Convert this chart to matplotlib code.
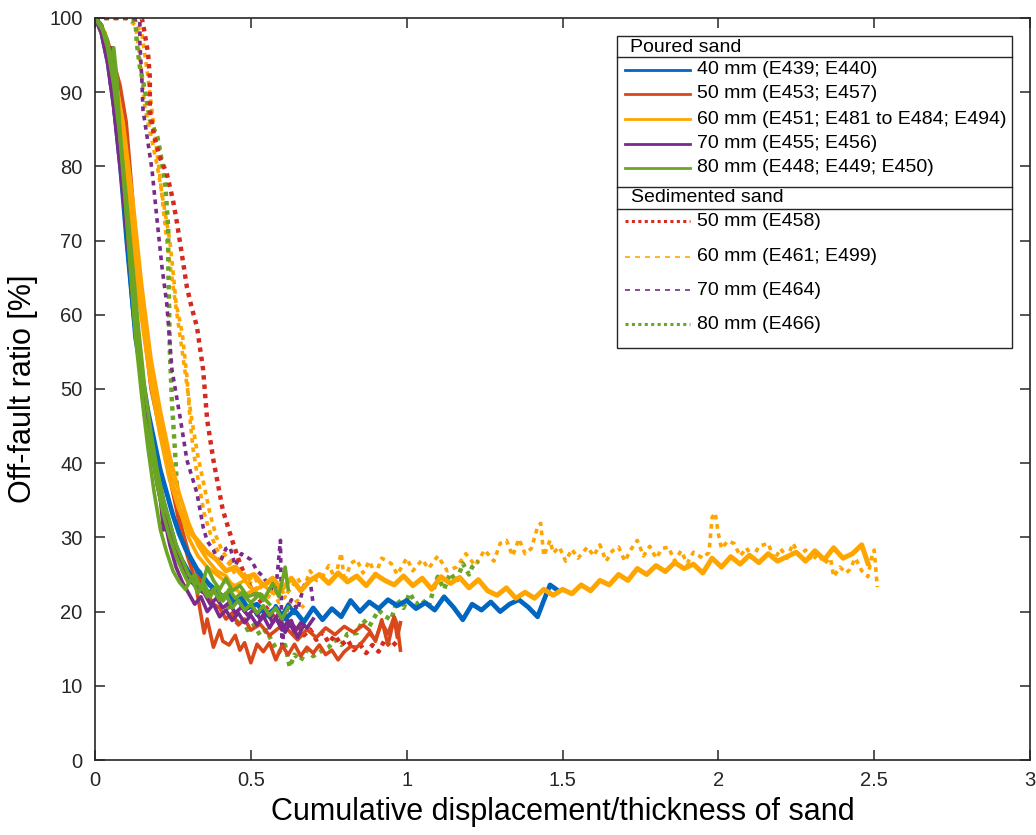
import matplotlib
matplotlib.use("Agg")
import matplotlib.pyplot as plt
from matplotlib.lines import Line2D
from matplotlib.patches import Rectangle

plt.rcParams['font.family'] = ['Liberation Sans', 'DejaVu Sans']

# ---------------- data (x = cumulative displacement / thickness, y = off-fault ratio %) -------------
poured_40_a = [(0,100),(0.02,99),(0.04,95),(0.06,90),(0.08,82),(0.10,72),(0.12,62),(0.13,57),(0.15,52),(0.17,47),
               (0.19,43),(0.21,39),(0.23,36),(0.25,33),(0.27,30.5),(0.29,28.5),(0.31,27),(0.33,25.5),(0.35,24.5),
               (0.37,23.5),(0.39,22.8),(0.41,22),(0.43,22.5),(0.45,21.2),(0.47,21.8),(0.49,20.5),(0.52,21),(0.55,19.5),
               (0.58,20.5),(0.61,19),(0.64,20.2),(0.67,18.6),(0.70,20.5),(0.73,18.9),(0.76,20.4),(0.79,19.3),(0.82,21.5),
               (0.85,20),(0.88,21.3),(0.91,20.4),(0.94,21.6),(0.97,20.8),(1.00,21.5),(1.03,20.4),(1.06,21.2),(1.09,20.2),
               (1.12,22),(1.15,20.6),(1.18,18.9),(1.21,21),(1.24,20.2),(1.27,21.3),(1.30,20),(1.33,21),(1.36,21.6),
               (1.39,20.6),(1.42,19.3),(1.44,21.5),(1.46,23.6),(1.48,23)]
poured_40_b = [(0,100),(0.02,98),(0.04,94),(0.06,88),(0.08,80),(0.10,70),(0.12,61),(0.14,54),(0.16,48),(0.18,43),
               (0.20,39),(0.22,35),(0.24,32),(0.26,29),(0.28,27),(0.30,25.5),(0.32,24),(0.34,23.5),(0.36,22.5),(0.38,23),
               (0.40,21.5),(0.42,22.2),(0.44,20.8),(0.46,21.5),(0.48,20),(0.50,21),(0.52,19.5),(0.54,20.6),(0.56,19.2),
               (0.58,20.8),(0.60,19.5),(0.62,21),(0.64,19.8)]
poured_50_a = [(0,100),(0.02,99),(0.04,97),(0.06,94),(0.08,91),(0.10,86),(0.12,76),(0.14,64),(0.16,57),(0.18,50),
               (0.20,46),(0.22,42),(0.24,38),(0.26,34),(0.28,30),(0.30,27),(0.32,24.5),(0.33,22),(0.35,17.1),(0.36,19),
               (0.38,15.2),(0.40,17.5),(0.41,16),(0.43,15.5),(0.45,16.8),(0.465,14.8),(0.48,15.8),(0.50,13.1),(0.52,15.6),
               (0.54,14.6),(0.56,15.8),(0.58,13.5),(0.60,15.4),(0.62,14.2),(0.64,15.6),(0.66,14),(0.68,15.2),(0.70,14.4),
               (0.72,15.5),(0.74,14.2),(0.76,14.8),(0.78,13.5),(0.80,14.6),(0.82,15.3),(0.84,15.2),(0.86,16),(0.88,17.1),
               (0.90,16.2),(0.92,18.5),(0.94,17),(0.96,19.3),(0.97,18.2),(0.98,14.8)]
poured_50_b = [(0,100),(0.02,98.5),(0.04,96),(0.06,92),(0.08,86),(0.10,79),(0.12,71),(0.14,63),(0.16,57),(0.18,51),
               (0.20,47),(0.22,43),(0.24,39),(0.26,35),(0.28,31),(0.30,28),(0.32,26),(0.34,24),(0.36,22.5),(0.38,21),
               (0.40,20.5),(0.42,19),(0.44,19.8),(0.46,18.2),(0.48,19),(0.50,17.5),(0.53,18.3),(0.56,16.8),(0.59,17.8),
               (0.62,17.5),(0.65,16.2),(0.68,17.6),(0.71,16.5),(0.74,17.8),(0.77,16.9),(0.80,18),(0.83,17.2),(0.86,18.2),
               (0.88,17.5),(0.90,16),(0.92,18.9),(0.94,15.5),(0.96,19.2),(0.97,16.5),(0.98,18.5)]
poured_60_a = [(0,100),(0.03,98),(0.06,92),(0.09,82),(0.12,70),(0.15,60),(0.18,51),(0.21,44),(0.24,38),(0.27,34),
               (0.30,31),(0.33,29.5),(0.36,28),(0.39,27),(0.42,25.5),(0.45,26),(0.48,24.5),(0.51,25),(0.54,23.5),
               (0.57,24.5),(0.60,23),(0.63,24.5),(0.66,22.8),(0.69,24.2),(0.72,25),(0.75,23.8),(0.78,25.2),(0.81,24),
               (0.84,24.8),(0.87,23.5),(0.90,25),(0.93,24.2),(0.96,23.6),(0.99,24.8),(1.02,23.5),(1.05,24.5),(1.08,23),
               (1.11,24.7),(1.14,23.8),(1.17,24.6),(1.20,23.2),(1.23,24.3),(1.26,22.8),(1.29,22.2),(1.32,23.2),
               (1.35,21.8),(1.38,22.6),(1.41,21.8),(1.44,23),(1.47,22.2),(1.50,23),(1.53,22.4),(1.56,23.6),(1.59,22.8),
               (1.62,24.2),(1.65,23.6),(1.68,25),(1.71,24.2),(1.74,25.8),(1.77,25),(1.80,26.2),(1.83,25.4),(1.86,26.6),
               (1.89,25.8),(1.92,26.4),(1.95,25.2),(1.98,27.2),(2.01,26),(2.04,27.4),(2.07,26.4),(2.10,27.6),(2.13,26.6),
               (2.16,27.8),(2.19,26.8),(2.22,27.4),(2.25,28),(2.28,26.8),(2.31,28.2),(2.34,27),(2.37,28.6),(2.40,27.2),
               (2.43,27.8),(2.46,29),(2.48,26.5)]
poured_60_b = [(0,100),(0.03,97),(0.06,91),(0.09,83),(0.12,72),(0.15,61),(0.18,52),(0.21,45),(0.24,39),(0.27,34),
               (0.30,30),(0.33,27.5),(0.36,26),(0.39,25),(0.42,24),(0.45,23.5),(0.48,24.2),(0.51,22.8),(0.54,23.6),
               (0.57,22.5),(0.60,23.2)]
poured_60_c = [(0,100),(0.03,98),(0.06,93),(0.09,86),(0.12,76),(0.15,64),(0.18,54),(0.21,47),(0.24,41),(0.27,36),
               (0.30,32),(0.33,29),(0.36,27),(0.39,25.5),(0.42,24.8),(0.45,23),(0.48,22.2),(0.51,23)]
poured_70_a = [(0,100),(0.02,99),(0.04,96),(0.05,91),(0.055,96),(0.06,88),(0.07,84),(0.08,80),(0.10,72),(0.12,63),
               (0.14,55),(0.16,48),(0.18,42),(0.20,37),(0.22,33),(0.24,29),(0.26,26),(0.28,24),(0.30,22.5),(0.32,21),
               (0.34,22),(0.36,20),(0.38,21),(0.40,19.3),(0.42,20.2),(0.44,18.8),(0.46,19.8),(0.48,18.5),(0.50,19.5),
               (0.52,18.2),(0.54,19.4),(0.56,17.8),(0.58,19.2),(0.60,17.5),(0.62,18.8),(0.64,17.2),(0.66,18.5),
               (0.68,17.8),(0.70,19)]
poured_70_b = [(0,100),(0.02,98),(0.04,94),(0.06,88),(0.08,81),(0.10,74),(0.12,66),(0.13,58),(0.15,52),(0.17,46),
               (0.19,40),(0.21,35),(0.22,31),(0.23,33),(0.25,29),(0.27,27),(0.29,25.5),(0.31,24),(0.33,23),(0.35,22.5),
               (0.37,21),(0.39,21.8),(0.41,20.5),(0.43,21.2),(0.45,19.8),(0.47,20.6),(0.49,19.5),(0.51,20.3),(0.53,19),
               (0.55,20.2),(0.57,18.5),(0.59,19.8),(0.61,17.2),(0.63,18.8),(0.65,16.5),(0.67,18.2)]
poured_80_a = [(0,100),(0.02,99),(0.04,97),(0.05,94),(0.06,96),(0.07,92),(0.08,84),(0.10,74),(0.12,64),(0.14,55),
               (0.15,50),(0.16,46),(0.18,42),(0.20,37),(0.22,33),(0.24,30),(0.26,27.5),(0.28,25.5),(0.30,23.8),(0.32,25),
               (0.34,23),(0.36,26),(0.38,24.2),(0.40,23),(0.42,24.5),(0.44,22.8),(0.465,23.5),(0.49,22),(0.52,22.5),
               (0.54,21.5),(0.57,23.8),(0.59,22),(0.61,26),(0.62,23)]
poured_80_b = [(0,100),(0.03,98),(0.05,95),(0.07,90),(0.09,80),(0.11,68),(0.13,57),(0.15,49),(0.17,42),(0.19,36),
               (0.21,31),(0.23,28),(0.25,25.5),(0.27,24),(0.29,23),(0.31,24.5),(0.33,22.5),(0.35,23.8),(0.37,22),
               (0.39,23.5),(0.41,21.5),(0.43,23),(0.45,21.8),(0.47,22.5),(0.50,21.2),(0.53,22.4),(0.56,21)]
poured_80_c = [(0,100),(0.02,99),(0.04,96),(0.06,91),(0.08,84),(0.10,76),(0.12,67),(0.14,58),(0.16,50),(0.18,44),
               (0.20,39),(0.22,35),(0.24,32),(0.26,29),(0.28,27),(0.30,25),(0.32,24),(0.34,23.5),(0.36,22),(0.38,23),
               (0.40,21.5),(0.42,22.5),(0.44,20.5),(0.46,21.5),(0.48,20.2),(0.50,21),(0.52,19.8),(0.54,20.8),
               (0.56,19.5),(0.58,20.5),(0.60,19),(0.62,20.6)]

sed_50 = [(0,100),(0.05,100),(0.10,100),(0.15,100),(0.155,99),(0.17,95.3),(0.176,92),(0.176,87.6),(0.19,84),(0.21,81),
          (0.23,79.1),(0.25,75.5),(0.263,72.4),(0.28,67.8),(0.295,63.7),(0.31,61),(0.327,58.4),(0.347,52.6),(0.36,45.8),
          (0.38,40.4),(0.41,33.7),(0.44,29.6),(0.465,26.5),(0.49,24),(0.51,22.5),(0.53,21.5),(0.55,20.5),(0.57,19.5),
          (0.59,18.6),(0.61,19.4),(0.63,17.5),(0.65,18.3),(0.67,16.8),(0.69,17.6),(0.71,16.2),(0.73,17.2),(0.75,15.8),
          (0.77,16.8),(0.79,15.5),(0.81,16.2),(0.83,14.8),(0.85,15.6),(0.87,14.4),(0.89,15.5),(0.91,14.6),(0.93,16.2),
          (0.95,15.2),(0.97,16)]
sed_60_a = [(0,100),(0.05,100),(0.10,100),(0.13,99),(0.14,96),(0.15,92),(0.16,88),(0.18,84),(0.20,80),(0.22,75),
            (0.24,70),(0.25,66),(0.26,61.6),(0.28,57.5),(0.295,51.6),(0.305,45.8),(0.315,41.8),(0.327,38.7),(0.35,33.3),
            (0.37,30.5),(0.39,28.5),(0.41,27),(0.43,26.5),(0.45,25),(0.47,25.8),(0.49,24.2),(0.51,24.8),(0.53,23.2),
            (0.55,24),(0.57,22.5),(0.59,23.5),(0.61,22.2),(0.625,22.9),(0.65,24.5),(0.67,23.2),(0.69,25.5),(0.71,24.2),
            (0.73,24.7),(0.75,26.2),(0.77,24.5),(0.79,27.9),(0.80,24),(0.82,26.5),(0.84,27),(0.86,25.2),(0.88,26.8),
            (0.90,25),(0.92,27.2),(0.95,26.5),(0.97,25),(1.00,27.2),(1.02,25.5),(1.05,27),(1.07,25.8),(1.10,27.5),
            (1.13,25.5),(1.16,26),(1.19,27.8),(1.22,26.2),(1.25,28.3),(1.28,26.8),(1.30,29.2),(1.32,29.6),(1.34,27.5),
            (1.36,29.8),(1.38,27.8),(1.40,28.5),(1.42,31.4),(1.43,31.9),(1.44,27.5),(1.46,29.6),(1.47,27.9),(1.49,28.7),
            (1.51,26.8),(1.53,28.4),(1.55,27.2),(1.58,28.7),(1.60,27.5),(1.62,29),(1.64,26.8),(1.66,28.2),(1.68,28.7),
            (1.70,26.8),(1.72,28.4),(1.74,29.6),(1.76,27.5),(1.78,28.8),(1.80,27.2),(1.82,28.5),(1.84,28.7),(1.86,26.8),
            (1.88,28.2),(1.90,26.5),(1.92,28),(1.95,27.2),(1.97,28),(1.98,32.7),(1.99,33.3),(2.00,30.5),(2.01,28.5),
            (2.03,29.5),(2.05,29.2),(2.07,27.5),(2.09,28.6),(2.11,27.2),(2.13,28.8),(2.16,29.2),(2.18,27),(2.20,28.5),
            (2.22,27.2),(2.24,29.2),(2.26,27.5),(2.28,28.3),(2.30,26.8),(2.32,27.8),(2.34,26.5),(2.36,27.2),(2.37,24.7),
            (2.39,26),(2.41,25.2),(2.42,25.6),(2.44,27.2),(2.46,25.5),(2.48,24.7),(2.49,27),(2.50,28.3),(2.51,23.3)]
sed_60_b = [(0,100),(0.06,100),(0.12,100),(0.15,98),(0.17,92),(0.19,85),(0.21,78),(0.23,70),(0.25,64),(0.27,58),
            (0.29,52),(0.31,46),(0.33,41),(0.35,37),(0.37,33),(0.39,30),(0.41,28),(0.43,27),(0.45,26.2),(0.47,25),
            (0.49,24.2),(0.51,23.5),(0.53,22.6),(0.55,21.6),(0.57,22.8),(0.59,21.2),(0.61,22),(0.63,20.8),(0.65,21.5),
            (0.67,20.5)]
sed_70 = [(0,100),(0.07,100),(0.12,100),(0.144,99.7),(0.144,96.6),(0.15,92),(0.154,87.6),(0.17,83.2),(0.183,79.5),
          (0.2,72.4),(0.215,66.4),(0.23,61.6),(0.247,52.6),(0.273,46.2),(0.295,40.4),(0.327,36),(0.347,31.4),(0.36,29.5),
          (0.38,28.3),(0.40,26.5),(0.42,28.5),(0.433,28.7),(0.45,26.2),(0.47,27.8),(0.50,27),(0.52,25.5),(0.54,24.7),
          (0.56,23.2),(0.58,22.9),(0.595,29.6),(0.60,14.8),(0.61,19.5),(0.63,21.6),(0.65,20.2),(0.67,23.5),(0.69,24.3),
          (0.70,21)]
sed_80 = [(0,100),(0.05,100),(0.10,100),(0.13,99.5),(0.134,96.6),(0.144,93.4),(0.16,90.3),(0.176,86.3),(0.2,84),
          (0.21,81.8),(0.225,77.8),(0.235,71.8),(0.235,66.4),(0.237,62.9),(0.24,55.3),(0.247,48.1),(0.257,41.4),
          (0.263,36.8),(0.27,33),(0.28,30),(0.30,27.5),(0.32,26),(0.34,25.2),(0.36,24),(0.38,23.2),(0.40,22),(0.42,21.2),
          (0.44,19.5),(0.455,18.5),(0.47,19.2),(0.49,17.5),(0.51,18.2),(0.53,16.8),(0.55,17.5),(0.57,15.8),(0.59,14.5),
          (0.61,15.5),(0.625,12.5),(0.64,14.2),(0.66,13.4),(0.68,14.8),(0.70,14),(0.73,14.8),(0.75,15.2),(0.77,16.2),
          (0.79,15.5),(0.81,17),(0.84,17.1),(0.86,18.9),(0.88,18),(0.91,20.2),(0.93,19.4),(0.95,18.9),(0.97,21.6),
          (0.99,20.5),(1.01,22.5),(1.03,21),(1.05,21.6),(1.07,20.6),(1.09,23.5),(1.10,24.7),(1.12,23),(1.14,25.2),
          (1.16,24),(1.18,26.5),(1.20,25),(1.21,26),(1.23,26.8)]

poured_header = 'Poured sand'
sed_header = 'Sedimented sand'
poured_labels = ['40 mm (E439; E440)', '50 mm (E453; E457)', '60 mm (E451; E481 to E484; E494)',
                 '70 mm (E455; E456)', '80 mm (E448; E449; E450)']
sed_labels = ['50 mm (E458)', '60 mm (E461; E499)', '70 mm (E464)', '80 mm (E466)']
x_ticks = [0, 0.5, 1, 1.5, 2, 2.5, 3]
x_tick_labels = ['0', '0.5', '1', '1.5', '2', '2.5', '3']
y_ticks = [0, 10, 20, 30, 40, 50, 60, 70, 80, 90, 100]

# ---------------- styles ----------------
BLUE = '#0066BF'
RED = '#D9481A'
RED_DOT = '#D62A1E'
ORANGE = '#FFA500'
PURPLE = '#7A2A8C'
GREEN = '#6BA524'
AX = '#262626'

W, H = 1036, 835
fig = plt.figure(figsize=(W / 100, H / 100), dpi=100)
ax = fig.add_axes([95 / W, 1 - 760 / H, (1030 - 95) / W, (760 - 18) / H])

def draw(ax, pts, **kw):
    xs = [p[0] for p in pts]
    ys = [p[1] for p in pts]
    ax.plot(xs, ys, **kw)

solid_kw = dict(lw=2.6, solid_joinstyle='round')
dot_kw = dict(lw=3.2, dashes=(1, 1.1))
dash_kw = dict(lw=2.6, dashes=(1.3, 1.3))

draw(ax, sed_60_a, color=ORANGE, **dash_kw)
draw(ax, sed_60_b, color=ORANGE, **dash_kw)
draw(ax, sed_80, color=GREEN, **dot_kw)
draw(ax, sed_70, color=PURPLE, **dash_kw)
draw(ax, sed_50, color=RED_DOT, **dot_kw)

draw(ax, poured_50_a, color=RED, **solid_kw)
draw(ax, poured_50_b, color=RED, **solid_kw)
draw(ax, poured_40_a, color=BLUE, lw=3.4)
draw(ax, poured_40_b, color=BLUE, **solid_kw)
draw(ax, poured_60_b, color=ORANGE, **solid_kw)
draw(ax, poured_60_c, color=ORANGE, **solid_kw)
draw(ax, poured_60_a, color=ORANGE, lw=3.6)
draw(ax, poured_70_a, color=PURPLE, **solid_kw)
draw(ax, poured_70_b, color=PURPLE, **solid_kw)
draw(ax, poured_80_a, color=GREEN, **solid_kw)
draw(ax, poured_80_b, color=GREEN, **solid_kw)
draw(ax, poured_80_c, color=GREEN, **solid_kw)

ax.set_xlim(0, 3)
ax.set_ylim(0, 100)
ax.set_xticks(x_ticks)
ax.set_xticklabels(x_tick_labels)
ax.set_yticks(y_ticks)
ax.tick_params(direction='in', length=7, width=1.1, colors=AX, labelsize=14.5,
               top=True, right=True)
ax.tick_params(axis='x', pad=8)
ax.tick_params(axis='y', pad=9)
for s in ax.spines.values():
    s.set_color(AX)
    s.set_linewidth(1.2)
ax.set_xlabel('Cumulative displacement/thickness of sand', fontsize=22, color='black', labelpad=5)
ax.set_ylabel('Off-fault ratio [%]', fontsize=22, color='black', labelpad=8)

# ---------------- custom two-section legend (figure pixel coordinates) ----------------
def fx(px):
    return px / W

def fy(py):
    return 1 - py / H

box_l, box_r, box_t, box_b = 617, 1012, 36, 348
fig.add_artist(Rectangle((fx(box_l), fy(box_b)), fx(box_r) - fx(box_l), fy(box_t) - fy(box_b),
                         transform=fig.transFigure, facecolor='white', edgecolor=AX, lw=1.0, zorder=5))
for py in (57, 187, 209):
    fig.add_artist(Line2D([fx(box_l), fx(box_r)], [fy(py), fy(py)], transform=fig.transFigure,
                          color=AX, lw=1.0, zorder=6))

LFS = 14
fig.text(fx(630), fy(47), poured_header, fontsize=LFS, va='center', ha='left', zorder=7)
fig.text(fx(631), fy(198), sed_header, fontsize=LFS, va='center', ha='left', zorder=7)

poured_colors = [BLUE, RED, ORANGE, PURPLE, GREEN]
poured_rows = [70, 94, 119, 144, 168]
for lab, col, py in zip(poured_labels, poured_colors, poured_rows):
    fig.add_artist(Line2D([fx(625), fx(690)], [fy(py), fy(py)], transform=fig.transFigure,
                          color=col, lw=2.0, zorder=7))
    fig.text(fx(697), fy(py), lab, fontsize=LFS, va='center', ha='left', zorder=7)

sed_colors = [RED_DOT, ORANGE, PURPLE, GREEN]
sed_styles = [dict(lw=2.2, dashes=(1, 1.1)), dict(lw=1.2, dashes=(3, 3)),
              dict(lw=1.2, dashes=(3, 3)), dict(lw=2.2, dashes=(1, 1.1))]
sed_rows = [221, 257, 290, 324]
for lab, col, st, py in zip(sed_labels, sed_colors, sed_styles, sed_rows):
    fig.add_artist(Line2D([fx(625), fx(690)], [fy(py), fy(py)], transform=fig.transFigure,
                          color=col, zorder=7, **st))
    fig.text(fx(697), fy(py), lab, fontsize=LFS, va='center', ha='left', zorder=7)

fig.savefig('out.png', dpi=100)
